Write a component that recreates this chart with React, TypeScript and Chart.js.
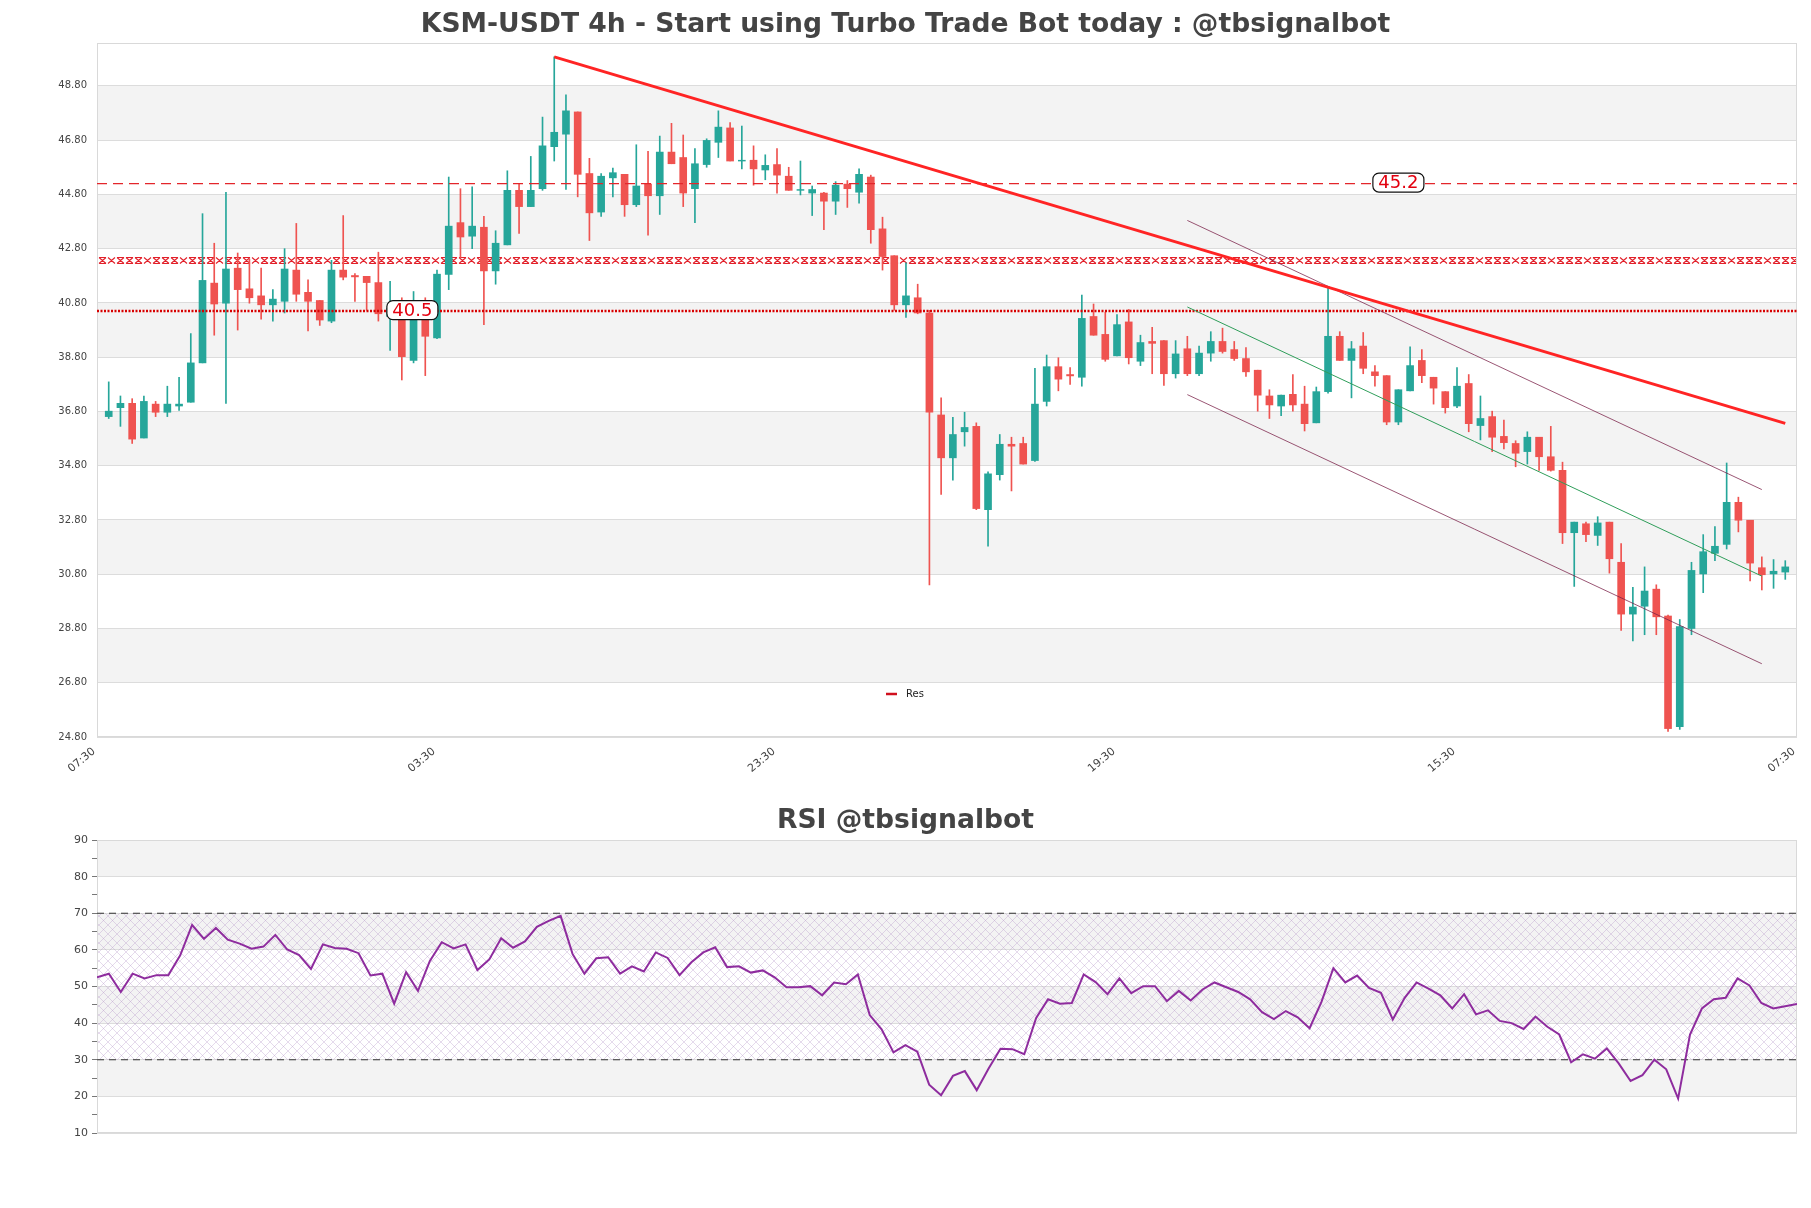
import React, { useEffect, useRef } from 'react';
import { Chart, registerables } from 'chart.js';

Chart.register(...registerables);

const GREEN = '#26a69a';
const RED = '#ef5350';
const FONT = "'DejaVu Sans', sans-serif";

const opens = [
  36.61, 36.94, 37.10, 35.82, 37.07, 36.77, 37.00, 37.14, 38.59, 41.53,
  40.79, 42.08, 41.32, 41.06, 40.73, 40.86, 42.01, 41.19, 40.89, 40.13,
  42.01, 41.81, 41.78, 41.55, 40.30, 40.20, 38.68, 40.20, 39.51, 41.85,
  43.76, 43.26, 43.59, 41.98, 42.94, 44.95, 44.35, 45.01, 46.56, 47.02,
  47.84, 45.57, 44.15, 45.41, 45.54, 44.42, 45.18, 44.75, 46.36, 46.16,
  45.01, 45.90, 46.72, 47.25, 46.03, 46.06, 45.70, 45.90, 45.47, 44.95,
  44.85, 44.85, 44.55, 45.18, 44.88, 45.44, 43.53, 42.54, 40.73, 40.99,
  40.43, 36.67, 35.09, 36.05, 36.25, 33.18, 34.47, 35.59, 35.62, 34.99,
  37.17, 38.45, 38.16, 38.06, 40.30, 39.64, 38.85, 40.10, 38.65, 39.38,
  39.41, 38.19, 39.11, 38.19, 38.95, 39.38, 39.08, 38.75, 38.32, 37.37,
  37.00, 37.43, 37.07, 36.38, 37.53, 39.57, 38.68, 39.21, 38.26, 38.12,
  36.41, 37.56, 38.68, 38.06, 37.53, 37.00, 37.83, 36.28, 36.61, 35.88,
  35.62, 35.32, 35.85, 35.13, 34.63, 32.33, 32.66, 32.23, 32.72, 31.24,
  29.33, 29.62, 30.25, 29.26, 25.18, 28.80, 30.81, 31.57, 31.90, 33.45,
  32.79, 31.04, 30.81, 30.88,
];
const highs = [
  37.89, 37.37, 37.27, 37.37, 37.17, 37.73, 38.06, 39.67, 44.09, 43.00,
  44.88, 42.64, 42.41, 42.08, 41.29, 42.80, 43.73, 41.65, 40.89, 42.37,
  44.02, 41.88, 41.78, 42.67, 41.60, 40.99, 41.22, 40.99, 42.01, 45.44,
  45.01, 45.08, 43.99, 43.46, 45.67, 45.21, 46.20, 47.65, 49.87, 48.47,
  47.84, 46.13, 45.57, 45.77, 45.54, 46.63, 46.39, 46.95, 47.42, 46.99,
  46.49, 46.85, 47.88, 47.45, 47.32, 46.59, 46.26, 46.49, 45.80, 46.03,
  45.11, 44.88, 45.27, 45.31, 45.74, 45.51, 43.96, 42.54, 42.28, 41.49,
  40.53, 37.30, 36.58, 36.77, 36.38, 34.57, 35.95, 35.85, 35.85, 38.39,
  38.88, 38.78, 38.42, 41.09, 40.76, 40.46, 40.37, 40.56, 39.61, 39.90,
  39.41, 39.41, 39.57, 39.21, 39.74, 39.87, 39.38, 39.15, 38.32, 37.60,
  37.40, 38.16, 37.73, 37.70, 41.39, 39.74, 39.38, 39.71, 38.49, 38.12,
  37.60, 39.18, 39.08, 38.06, 37.53, 38.42, 38.16, 37.37, 36.81, 36.48,
  35.72, 36.05, 35.85, 36.25, 34.93, 32.72, 32.72, 32.92, 32.72, 31.93,
  30.32, 31.07, 30.41, 29.29, 29.13, 31.24, 32.26, 32.56, 34.90, 33.64,
  32.79, 31.44, 31.34, 31.30,
];
const lows = [
  36.54, 36.25, 35.62, 35.82, 36.61, 36.61, 36.84, 37.14, 38.59, 39.61,
  37.10, 39.80, 40.79, 40.20, 40.13, 40.43, 40.86, 39.77, 39.97, 40.07,
  41.65, 40.86, 40.53, 40.13, 39.05, 37.96, 38.59, 38.12, 39.48, 41.29,
  42.47, 42.80, 40.00, 41.49, 42.94, 43.36, 44.35, 44.95, 46.03, 44.98,
  44.71, 43.10, 43.99, 44.71, 43.99, 44.35, 43.30, 44.06, 45.93, 44.35,
  43.76, 45.80, 46.16, 46.03, 45.74, 45.14, 45.34, 44.85, 44.95, 44.78,
  44.02, 43.50, 44.06, 44.32, 44.48, 43.00, 42.01, 40.53, 40.27, 40.40,
  30.41, 33.74, 34.27, 35.52, 33.18, 31.83, 34.27, 33.87, 34.86, 34.96,
  37.00, 37.56, 37.80, 37.73, 39.61, 38.65, 38.85, 38.55, 38.49, 38.19,
  37.76, 38.03, 38.12, 38.12, 38.65, 38.95, 38.68, 38.09, 36.81, 36.54,
  36.64, 36.81, 36.08, 36.38, 37.47, 38.68, 37.30, 38.19, 37.73, 36.31,
  36.31, 37.56, 37.86, 37.07, 36.74, 36.94, 36.05, 35.75, 35.32, 35.42,
  34.76, 34.86, 34.63, 34.60, 31.93, 30.35, 32.00, 31.86, 30.84, 28.73,
  28.34, 28.57, 28.57, 25.01, 25.08, 28.57, 30.12, 31.30, 31.73, 32.36,
  30.55, 30.22, 30.28, 30.61,
];
const closes = [
  36.81, 37.10, 35.78, 37.17, 36.77, 37.07, 37.07, 38.59, 41.63, 40.76,
  42.05, 41.29, 40.99, 40.73, 40.94, 42.05, 41.12, 40.86, 40.17, 42.01,
  41.75, 41.76, 41.55, 40.40, 40.60, 38.82, 40.20, 39.57, 41.86, 43.63,
  43.23, 43.63, 41.98, 43.00, 44.95, 44.35, 44.95, 46.59, 47.09, 47.88,
  45.54, 44.12, 45.47, 45.60, 44.42, 45.11, 44.75, 46.36, 45.93, 44.85,
  45.93, 46.79, 47.28, 46.03, 46.06, 45.74, 45.87, 45.51, 44.95, 44.98,
  44.98, 44.55, 45.14, 45.01, 45.54, 43.50, 42.51, 40.73, 41.06, 40.43,
  36.77, 35.09, 35.95, 36.21, 33.22, 34.50, 35.59, 35.52, 34.86, 37.07,
  38.45, 37.99, 38.11, 40.23, 39.61, 38.72, 40.00, 38.78, 39.34, 39.31,
  38.19, 38.92, 38.19, 38.95, 39.38, 39.01, 38.75, 38.26, 37.40, 37.04,
  37.40, 37.04, 36.35, 37.53, 39.57, 38.68, 39.11, 38.39, 38.12, 36.41,
  37.60, 38.49, 38.12, 37.66, 36.94, 37.73, 36.35, 36.54, 35.85, 35.65,
  35.26, 35.85, 35.13, 34.63, 32.33, 32.72, 32.26, 32.69, 31.37, 29.33,
  29.59, 30.18, 29.23, 25.11, 28.87, 30.94, 31.63, 31.83, 33.45, 32.79,
  31.21, 30.78, 30.91, 31.07,
];

const rsiValues = [
  52.5, 53.5, 48.5, 53.5, 52.2, 53.1, 53.1, 58.5, 66.8, 63.0,
  66.0, 62.8, 61.7, 60.3, 60.9, 64.1, 60.1, 58.6, 54.8, 61.5,
  60.5, 60.3, 59.1, 53.0, 53.5, 45.3, 53.9, 48.8, 57.0, 62.1,
  60.4, 61.5, 54.5, 57.4, 63.2, 60.6, 62.3, 66.3, 67.9, 69.3,
  58.9, 53.5, 57.7, 58.0, 53.5, 55.5, 54.1, 59.3, 57.8, 53.1,
  56.6, 59.3, 60.7, 55.3, 55.5, 53.8, 54.4, 52.5, 49.8, 49.8,
  50.1, 47.6, 51.1, 50.6, 53.3, 42.2, 38.3, 32.0, 34.0, 32.2,
  23.2, 20.3, 25.6, 26.9, 21.7, 27.6, 33.0, 32.9, 31.5, 41.4,
  46.5, 45.3, 45.5, 53.3, 51.2, 47.9, 52.2, 48.2, 50.1, 50.1,
  46.0, 48.8, 46.2, 49.2, 51.1, 49.8, 48.5, 46.5, 43.0, 41.1,
  43.3, 41.6, 38.6, 45.8, 55.0, 51.1, 53.0, 49.6, 48.3, 41.0,
  46.9, 51.1, 49.4, 47.6, 44.0, 47.9, 42.4, 43.5, 40.6, 40.0,
  38.4, 41.8, 39.0, 36.9, 29.3, 31.5, 30.3, 33.1, 29.0, 24.2,
  25.8, 30.0, 27.4, 19.4, 36.9, 44.0, 46.5, 46.9, 52.2, 50.3,
  45.5, 44.0, 44.6, 45.2,
];

const mainTitle = 'KSM-USDT 4h - Start using Turbo Trade Bot today : @tbsignalbot';
const rsiTitle = 'RSI @tbsignalbot';
const xTickValues = [-1, 28, 57, 86, 115, 144];
const xTickLabels = ['07:30', '03:30', '23:30', '19:30', '15:30', '07:30'];
const priceTicks = [24.8, 26.8, 28.8, 30.8, 32.8, 34.8, 36.8, 38.8, 40.8, 42.8, 44.8, 46.8, 48.8];
const priceBands = [[26.8, 28.8], [30.8, 32.8], [34.8, 36.8], [38.8, 40.8], [42.8, 44.8], [46.8, 48.8]];
const rsiBands = [[20, 30], [40, 50], [60, 70], [80, 90]];
const rsiTicks = [10, 15, 20, 25, 30, 35, 40, 45, 50, 55, 60, 65, 70, 75, 80, 85, 90];

const resTrend = [{ x: 38, y: 49.87 }, { x: 143, y: 36.36 }];
const channelUpper = [{ x: 92, y: 43.84 }, { x: 141, y: 33.92 }];
const channelMid = [{ x: 92, y: 40.65 }, { x: 141, y: 30.73 }];
const channelLower = [{ x: 92, y: 37.42 }, { x: 141, y: 27.50 }];
const resistanceLevel = 45.2;
const supportLevel = 40.5;
const zoneLevels = [42.26, 42.49];
const levelLabels = [
  { text: '45.2', value: 45.2, at: 110.0 },
  { text: '40.5', value: 40.5, at: 25.9 },
];
const rsiLevels = [70, 30];

function hline(v: number) {
  return [{ x: -1, y: v }, { x: 144, y: v }];
}

const mainBackground = {
  id: 'mainBackground',
  beforeDraw(chart: any) {
    const { ctx, chartArea, scales } = chart;
    const y = scales.y;
    ctx.save();
    ctx.fillStyle = '#f3f3f3';
    for (const [a, b] of priceBands) {
      const t = y.getPixelForValue(b);
      const bt = y.getPixelForValue(a);
      ctx.fillRect(chartArea.left, t, chartArea.right - chartArea.left, bt - t);
    }
    ctx.restore();
  },
  beforeDatasetsDraw(chart: any) {
    const { ctx, chartArea, scales } = chart;
    const y = scales.y;
    // hatched zone drawn as a row of hourglass crosses
    const top = Math.round(y.getPixelForValue(zoneLevels[1])) + 0.5;
    const bot = Math.round(y.getPixelForValue(zoneLevels[0])) + 0.5;
    ctx.save();
    ctx.beginPath();
    ctx.rect(chartArea.left, top - 1, chartArea.right - chartArea.left, bot - top + 2);
    ctx.clip();
    ctx.strokeStyle = '#e2202a';
    ctx.lineWidth = 1.1;
    ctx.beginPath();
    const step = 9;
    const w = 7;
    let k = 0;
    for (let x = chartArea.left + 2; x < chartArea.right; x += step, k++) {
      ctx.moveTo(x, top);
      ctx.lineTo(x + w, bot);
      ctx.moveTo(x, bot);
      ctx.lineTo(x + w, top);
      if (k % 4 !== 1) {
        ctx.moveTo(x, top);
        ctx.lineTo(x + w, top);
        ctx.moveTo(x, bot);
        ctx.lineTo(x + w, bot);
      }
    }
    ctx.stroke();
    ctx.restore();
    ctx.save();
    ctx.strokeStyle = '#d9d9d9';
    ctx.lineWidth = 1;
    ctx.strokeRect(chartArea.left + 0.5, chartArea.top + 0.5, chartArea.right - chartArea.left - 1, chartArea.bottom - chartArea.top - 1);
    ctx.restore();
  },
  afterDatasetsDraw(chart: any) {
    const { ctx, chartArea, scales } = chart;
    const x = scales.x;
    const y = scales.y;
    ctx.save();
    for (const lab of levelLabels) {
      const cx = x.getPixelForValue(lab.at);
      const cy = y.getPixelForValue(lab.value) - 1;
      const w = 51, h = 19;
      ctx.beginPath();
      ctx.roundRect(cx - w / 2, cy - h / 2, w, h, 6);
      ctx.fillStyle = '#ffffff';
      ctx.fill();
      ctx.strokeStyle = '#111';
      ctx.lineWidth = 1.2;
      ctx.stroke();
      ctx.fillStyle = '#e3000f';
      ctx.font = `18px ${FONT}`;
      ctx.textAlign = 'center';
      ctx.textBaseline = 'middle';
      ctx.fillText(lab.text, cx, cy + 1);
    }
    // legend
    const lx = chartArea.left + 789;
    const ly = chartArea.bottom - 43;
    ctx.strokeStyle = '#d0101e';
    ctx.lineWidth = 2.5;
    ctx.beginPath();
    ctx.moveTo(lx, ly);
    ctx.lineTo(lx + 11, ly);
    ctx.stroke();
    ctx.fillStyle = '#222';
    ctx.font = `10px ${FONT}`;
    ctx.textAlign = 'left';
    ctx.textBaseline = 'middle';
    ctx.fillText('Res', lx + 20, ly);
    ctx.restore();
  },
};

let hatchPattern: CanvasPattern | null = null;
function getHatch(ctx: CanvasRenderingContext2D) {
  if (hatchPattern) return hatchPattern;
  const c = document.createElement('canvas');
  c.width = 9;
  c.height = 9;
  const g = c.getContext('2d')!;
  g.strokeStyle = 'rgba(175, 140, 195, 0.32)';
  g.lineWidth = 1;
  g.beginPath();
  g.moveTo(0, 0);
  g.lineTo(9, 9);
  g.moveTo(0, 9);
  g.lineTo(9, 0);
  g.stroke();
  hatchPattern = ctx.createPattern(c, 'repeat');
  return hatchPattern;
}

const rsiBackground = {
  id: 'rsiBackground',
  beforeDraw(chart: any) {
    const { ctx, chartArea, scales } = chart;
    const y = scales.y;
    ctx.save();
    ctx.fillStyle = '#f3f3f3';
    for (const [a, b] of rsiBands) {
      const t = y.getPixelForValue(b);
      const bt = y.getPixelForValue(a);
      ctx.fillRect(chartArea.left, t, chartArea.right - chartArea.left, bt - t);
    }
    ctx.restore();
  },
  beforeDatasetsDraw(chart: any) {
    const { ctx, chartArea, scales } = chart;
    const y = scales.y;
    ctx.save();
    const t = y.getPixelForValue(70);
    const b = y.getPixelForValue(30);
    ctx.fillStyle = getHatch(ctx) as any;
    ctx.fillRect(chartArea.left, t, chartArea.right - chartArea.left, b - t);
    ctx.strokeStyle = '#d9d9d9';
    ctx.lineWidth = 1;
    ctx.strokeRect(chartArea.left + 0.5, chartArea.top + 0.5, chartArea.right - chartArea.left - 1, chartArea.bottom - chartArea.top - 1);
    ctx.restore();
  },
};

export default function App() {
  const mainRef = useRef<HTMLCanvasElement>(null);
  const rsiRef = useRef<HTMLCanvasElement>(null);

  useEffect(() => {
    const idx = opens.map((_, i) => i);
    const colors = idx.map((i) => (closes[i] >= opens[i] ? GREEN : RED));
    const bodies = idx.map((i) => ({ x: i, y: [opens[i], closes[i]] }));
    const wicks = idx.map((i) => ({ x: i, y: [lows[i], highs[i]] }));

    const lineDs = (data: any[], color: string, width: number, order: number, dash: number[] = []) => ({
      type: 'line' as const,
      data,
      borderColor: color,
      borderWidth: width,
      borderDash: dash,
      pointRadius: 0,
      fill: false,
      tension: 0,
      order,
    });

    const main = new Chart(mainRef.current!, {
      type: 'bar',
      data: {
        datasets: [
          lineDs(resTrend, '#ff2424', 3, -3),
          lineDs(channelUpper, 'rgba(120, 30, 70, 0.75)', 1, -2),
          lineDs(channelLower, 'rgba(120, 30, 70, 0.75)', 1, -2),
          lineDs(channelMid, '#2f9e5a', 1, -2),
          lineDs(hline(resistanceLevel), '#e3262b', 1.3, -1, [10, 6]),
          lineDs(hline(supportLevel), '#d80000', 2.6, -1, [2, 1.5]),
          {
            type: 'bar' as const,
            data: bodies as any,
            backgroundColor: colors,
            borderWidth: 0,
            barThickness: 7,
            grouped: false,
            order: 1,
          },
          {
            type: 'bar' as const,
            data: wicks as any,
            backgroundColor: colors,
            borderWidth: 0,
            barThickness: 1,
            grouped: false,
            order: 2,
          },
        ] as any,
      },
      options: {
        responsive: false,
        animation: false,
        events: [],
        layout: { padding: { left: 14, right: 14, top: 0, bottom: 0 } },
        plugins: {
          legend: { display: false },
          tooltip: { enabled: false },
          title: {
            display: true,
            text: mainTitle,
            color: '#444',
            font: { family: FONT, size: 26.6, weight: 'bold' },
            padding: { top: 9.5, bottom: 1.6 },
          },
        },
        scales: {
          x: {
            type: 'linear',
            min: -1,
            max: 144,
            offset: false,
            afterBuildTicks: (s: any) => {
              s.ticks = xTickValues.map((v) => ({ value: v }));
            },
            afterFit: (s: any) => {
              s.height = 50;
            },
            ticks: {
              autoSkip: false,
              maxRotation: 40,
              minRotation: 40,
              color: '#444',
              font: { family: FONT, size: 11 },
              padding: 0,
              labelOffset: -3,
              callback: (_v: any, i: number) => xTickLabels[i],
            },
            grid: { display: false, offset: false },
            border: { display: false },
          },
          y: {
            type: 'linear',
            min: 24.8,
            max: 50.38,
            afterBuildTicks: (s: any) => {
              s.ticks = priceTicks.map((v) => ({ value: v }));
            },
            afterFit: (s: any) => {
              s.width = 83;
            },
            ticks: {
              color: '#444',
              font: { family: FONT, size: 10 },
              padding: 10,
              callback: (v: any) => Number(v).toFixed(2),
            },
            grid: { color: '#dcdcdc', drawTicks: false },
            border: { display: false },
          },
        },
      } as any,
      plugins: [mainBackground],
    });

    const rsi = new Chart(rsiRef.current!, {
      type: 'line',
      data: {
        datasets: [
          {
            data: rsiValues.map((v, i) => ({ x: i, y: v })),
            borderColor: '#8e2c9e',
            borderWidth: 2,
            pointRadius: 0,
            tension: 0,
            fill: false,
            order: 0,
          },
          ...rsiLevels.map((lv) => ({
            data: [{ x: 0, y: lv }, { x: rsiValues.length - 1, y: lv }],
            borderColor: '#333',
            borderWidth: 1.2,
            borderDash: [7, 5],
            pointRadius: 0,
            fill: false,
            order: 1,
          })),
        ],
      },
      options: {
        responsive: false,
        animation: false,
        events: [],
        layout: { padding: { left: 14, right: 14, top: 0, bottom: 75 } },
        plugins: {
          legend: { display: false },
          tooltip: { enabled: false },
          title: {
            display: true,
            text: rsiTitle,
            color: '#444',
            font: { family: FONT, size: 26.6, weight: 'bold' },
            padding: { top: 15.5, bottom: 2.6 },
          },
        },
        scales: {
          x: {
            type: 'linear',
            min: 0,
            max: rsiValues.length - 1,
            display: false,
          },
          y: {
            type: 'linear',
            min: 10,
            max: 90,
            afterBuildTicks: (s: any) => {
              s.ticks = rsiTicks.map((v) => ({ value: v }));
            },
            afterFit: (s: any) => {
              s.width = 83;
            },
            ticks: {
              color: '#444',
              font: { family: FONT, size: 11 },
              padding: 4,
              callback: (v: any) => (Number(v) % 10 === 0 ? String(v) : ''),
            },
            grid: {
              color: (c: any) => (c.tick && c.tick.value % 10 === 0 ? '#dcdcdc' : 'rgba(0,0,0,0)'),
              tickColor: '#777',
              tickLength: 5,
            },
            border: { display: false },
          },
        },
      } as any,
      plugins: [rsiBackground],
    });

    return () => {
      main.destroy();
      rsi.destroy();
    };
  }, []);

  return (
    <div style={{ position: 'absolute', left: 0, top: 0, width: 1811, height: 1208, background: '#ffffff' }}>
      <canvas ref={mainRef} width={1811} height={787} style={{ position: 'absolute', left: 0, top: 0 }} />
      <canvas ref={rsiRef} width={1811} height={418} style={{ position: 'absolute', left: 0, top: 790 }} />
    </div>
  );
}
